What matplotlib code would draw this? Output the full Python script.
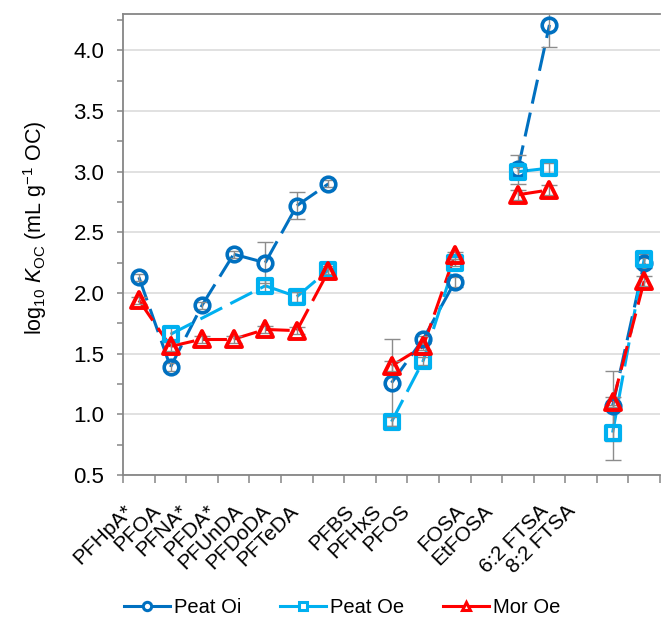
import numpy as np
import matplotlib
matplotlib.use("Agg")
import matplotlib.pyplot as plt
import matplotlib.transforms as mtransforms
from matplotlib.lines import Line2D
from matplotlib.markers import MarkerStyle
from matplotlib.ticker import MultipleLocator, FixedLocator, NullFormatter

plt.rcParams['font.family'] = ['Liberation Sans', 'DejaVu Sans']
plt.rcParams['mathtext.fontset'] = 'custom'
plt.rcParams['mathtext.rm'] = 'Liberation Sans'
plt.rcParams['mathtext.it'] = 'Liberation Sans:italic'

# Compounds along the x axis; '' is an empty slot between compound groups
compounds = ["PFHpA*", "PFOA", "PFNA*", "PFDA*", "PFUnDA", "PFDoDA", "PFTeDA", "",
             "PFBS", "PFHxS", "PFOS", "", "FOSA", "EtFOSA", "", "6:2 FTSA", "8:2 FTSA"]
nan = np.nan

# log10 Koc (mean) and error bars per sorbent
peat_oi = [2.13, 1.39, 1.90, 2.32, 2.25, 2.72, 2.90, nan,
           1.26, 1.62, 2.09, nan, 3.02, 4.21, nan, 1.07, 2.25]
peat_oi_err = [0.03, 0.03, 0.03, 0.03, 0.17, 0.11, 0.03, nan,
               0.36, 0.03, 0.04, nan, 0.12, 0.18, nan, 0.29, 0.04]
peat_oe = [nan, 1.66, nan, nan, 2.06, 1.97, 2.19, nan,
           0.94, 1.44, 2.25, nan, 3.00, 3.03, nan, 0.85, 2.28]
peat_oe_err = [nan, 0.06, nan, nan, 0.05, 0.04, 0.03, nan,
               0.04, 0.03, 0.03, nan, 0.04, 0.04, nan, 0.23, 0.04]
mor_oe = [1.94, 1.56, 1.62, 1.62, 1.70, 1.69, 2.18, nan,
          1.40, 1.56, 2.31, nan, 2.81, 2.85, nan, 1.10, 2.10]
mor_oe_err = [0.03, 0.04, 0.03, 0.03, 0.03, 0.03, 0.03, nan,
              0.04, 0.03, 0.03, nan, 0.04, 0.04, nan, 0.04, 0.04]

series = [
    ("Peat Oi", peat_oi, peat_oi_err, "#0070C0", "o", 10.5, 2.6),
    ("Peat Oe", peat_oe, peat_oe_err, "#00B0F0", "s", 10.5, 3.0),
    ("Mor Oe", mor_oe, mor_oe_err, "#FF0000", "^", 12, 2.8),
]

FS = 14.5

x = np.arange(len(compounds))

fig = plt.figure(figsize=(6.62, 6.22), dpi=100)
ax = fig.add_axes([0.186, 0.2363, 0.811, 0.7412])

# groups of consecutive slots that are joined by lines
groups = []
cur = []
for i, name in enumerate(compounds):
    if name == "":
        groups.append(cur)
        cur = []
    else:
        cur.append(i)
groups.append(cur)

for k, (label, vals, errs, color, marker, ms, mew) in enumerate(series):
    y = np.array(vals, dtype=float)
    e = np.array(errs, dtype=float)
    # each segment drawn on its own so the dash pattern restarts (as in Excel)
    for g in groups:
        idx = [i for i in g if not np.isnan(y[i])]
        for a, b in zip(idx[:-1], idx[1:]):
            ax.plot([x[a], x[b]], [y[a], y[b]], color=color, lw=2.2,
                    dashes=(8, 3), dash_capstyle='butt', zorder=2 + k)
    ok = ~np.isnan(y)
    ax.errorbar(x[ok], y[ok], yerr=e[ok], fmt='none', ecolor='#8C8C8C',
                elinewidth=1.0, capsize=6, capthick=1.0, zorder=5 + k)
    ax.plot(x[ok], y[ok], ls='none',
            marker=MarkerStyle(marker, joinstyle='round'), ms=ms,
            mfc='none', mec=color, mew=mew, zorder=8 + k)

ax.set_xlim(-0.5, len(compounds) - 0.5)
ax.set_ylim(0.5, 4.3)

ax.yaxis.set_minor_locator(MultipleLocator(0.25))
ax.set_yticks(np.arange(0.5, 4.01, 0.5))
ax.set_yticklabels([f"{v:.1f}" for v in np.arange(0.5, 4.01, 0.5)])
ax.xaxis.set_major_locator(FixedLocator(np.arange(-0.5, len(compounds), 1.0)))
ax.xaxis.set_major_formatter(NullFormatter())

ax.grid(axis='y', which='major', color='#D9D9D9', lw=1.1, zorder=0)
ax.set_axisbelow(True)

for s in ['left', 'bottom', 'top']:
    ax.spines[s].set_color('#868686')
    ax.spines[s].set_linewidth(1.3)
ax.spines['right'].set_visible(False)

ax.tick_params(axis='y', which='both', direction='out', length=4.5,
               width=1.1, color='#868686', labelsize=16, pad=9)
ax.tick_params(axis='x', which='major', direction='out', length=6,
               width=1.1, color='#868686')

# rotated compound labels
lab_tr = mtransforms.blended_transform_factory(ax.transData, ax.transAxes) + \
    mtransforms.ScaledTranslation(0, -0.33, fig.dpi_scale_trans)
for i, name in enumerate(compounds):
    if name:
        ax.text(-0.3 + 0.877 * i, 0, name, transform=lab_tr, rotation=45,
                rotation_mode='anchor', ha='right', va='center', fontsize=15)

ax.set_ylabel(r'log$_{10}$ $\mathit{K}_{\mathrm{OC}}$ (mL g$^{-1}$ OC)',
              fontsize=15.5)
ax.yaxis.set_label_coords(-0.138, 0.536)

handles = [Line2D([], [], color=c, lw=2.2, marker=m, ms=6, mfc='white',
                  mec=c, mew=2.2)
           for (_, _, _, c, m, _, _) in series]
fig.legend(handles, [s[0] for s in series], loc='center',
           bbox_to_anchor=(0.517, 0.024), ncol=3, frameon=False,
           fontsize=FS, handlelength=2.3, handletextpad=0.2,
           columnspacing=1.9)

fig.savefig("out.png", dpi=100)
